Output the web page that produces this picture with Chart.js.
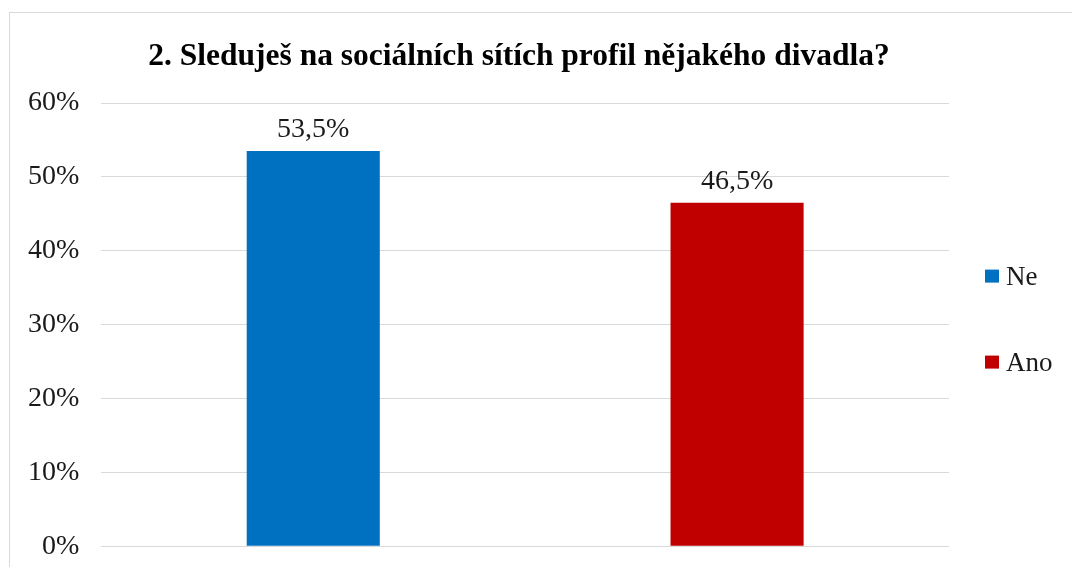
<!DOCTYPE html>
<html>
<head>
<meta charset="utf-8">
<script src="https://cdn.jsdelivr.net/npm/chart.js@4/dist/chart.umd.min.js"></script>
<style>
  html, body { margin: 0; padding: 0; background: #fff; overflow: hidden; width: 1072px; height: 567px; }
  #frame {
    position: absolute; left: 9px; top: 12px; width: 1070px; height: 560px;
    border-left: 1px solid #d9d9d9; border-top: 1px solid #d9d9d9;
    box-sizing: border-box;
  }
  #wrap { position: absolute; left: 0; top: 0; width: 1072px; height: 585px; }
</style>
</head>
<body>
<div id="frame"></div>
<div id="wrap"><canvas id="c"></canvas></div>
<script>
const categories = ['Ne', 'Ano'];
const values = [53.5, 46.5];
const colors = ['#0070C0', '#C00000'];
const yTicks = [0, 10, 20, 30, 40, 50, 60];
const titleText = '2. Sleduješ na sociálních sítích profil nějakého divadla?';

const serif = '"Liberation Serif", "Times New Roman", serif';

// one dataset per answer so each gets its own legend entry
const datasets = categories.map((name, i) => ({
  label: name,
  data: values.map((v, j) => (j === i ? v : null)),
  backgroundColor: colors[i],
  borderWidth: 0,
  barPercentage: 1,
  categoryPercentage: 0.314,
  grouped: false
}));

// value above each bar, e.g. "53,5%"
const valueLabels = {
  id: 'valueLabels',
  afterDatasetsDraw(chart) {
    const ctx = chart.ctx;
    ctx.save();
    ctx.font = '28px ' + serif;
    ctx.fillStyle = '#1a1a1a';
    ctx.textAlign = 'center';
    ctx.textBaseline = 'alphabetic';
    chart.data.datasets.forEach((ds, di) => {
      const meta = chart.getDatasetMeta(di);
      meta.data.forEach((bar, i) => {
        const v = ds.data[i];
        if (v == null) return;
        ctx.fillText(v.toFixed(1).replace('.', ',') + '%', bar.x, bar.y - 14);
      });
    });
    ctx.restore();
  }
};

// heading, centred over the plot and legend block
const heading = {
  id: 'heading',
  afterDraw(chart) {
    const ctx = chart.ctx;
    ctx.save();
    ctx.font = 'bold 31.5px ' + serif;
    ctx.fillStyle = '#000';
    ctx.textAlign = 'center';
    ctx.textBaseline = 'alphabetic';
    ctx.fillText(titleText, chart.width / 2 - 17, 65);
    ctx.restore();
  }
};

// legend in the right margin: small square + name, stacked vertically
const sideLegend = {
  id: 'sideLegend',
  afterDraw(chart) {
    const ctx = chart.ctx;
    const area = chart.chartArea;
    const box = 14, gap = 86;
    const n = chart.data.datasets.length;
    const mid = (area.top + area.bottom) / 2 - 5;
    const x = area.right + 36;
    ctx.save();
    ctx.font = '27px ' + serif;
    ctx.textBaseline = 'middle';
    ctx.textAlign = 'left';
    chart.data.datasets.forEach((ds, i) => {
      const cy = mid + (i - (n - 1) / 2) * gap;
      ctx.fillStyle = ds.backgroundColor;
      ctx.fillRect(x, cy - box / 2, box, box - 1);
      ctx.fillStyle = '#1a1a1a';
      ctx.fillText(ds.label, x + box + 7, cy + 1);
    });
    ctx.restore();
  }
};

new Chart(document.getElementById('c'), {
  type: 'bar',
  data: { labels: categories.map(() => ''), datasets },
  options: {
    responsive: true,
    maintainAspectRatio: false,
    animation: false,
    layout: { padding: { left: 6, right: 123, top: 103, bottom: 0 } },
    plugins: {
      title: { display: false },
      legend: { display: false },
      tooltip: { enabled: false }
    },
    scales: {
      x: { display: false },
      y: {
        min: 0,
        max: 60,
        afterBuildTicks(axis) { axis.ticks = yTicks.map(v => ({ value: v })); },
        grid: { color: '#d9d9d9', lineWidth: 1, drawTicks: false },
        border: { display: false },
        ticks: {
          color: '#1a1a1a',
          font: { family: serif, size: 28 },
          padding: 22,
          callback: v => v + '%'
        }
      }
    }
  },
  plugins: [valueLabels, heading, sideLegend]
});
</script>
</body>
</html>
